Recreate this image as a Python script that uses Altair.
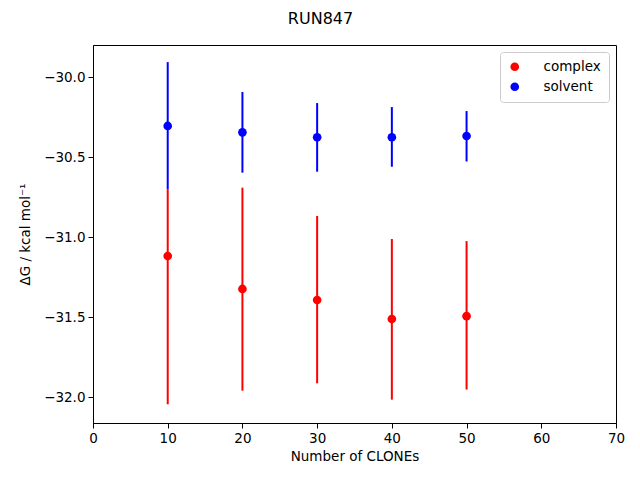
import altair as alt
import pandas as pd

clones = [10, 20, 30, 40, 50]
complex_mean = [-31.117, -31.323, -31.392, -31.511, -31.493]
complex_lo = [-32.044, -31.959, -31.913, -32.015, -31.952]
complex_hi = [-30.700, -30.690, -30.867, -31.011, -31.024]
solvent_mean = [-30.304, -30.344, -30.375, -30.375, -30.367]
solvent_lo = [-30.700, -30.596, -30.590, -30.559, -30.526]
solvent_hi = [-29.905, -30.092, -30.161, -30.186, -30.211]
series = ["complex", "solvent"]
colors = ["#ff0000", "#0000ff"]

rows = []
for i, c in enumerate(clones):
    rows.append(dict(n=c, leg="complex", o=0, mean=complex_mean[i], lo=complex_lo[i], hi=complex_hi[i]))
for i, c in enumerate(clones):
    rows.append(dict(n=c, leg="solvent", o=1, mean=solvent_mean[i], lo=solvent_lo[i], hi=solvent_hi[i]))
df = pd.DataFrame(rows)

FONT = "DejaVu Sans"
xscale = alt.Scale(domain=[0, 70], nice=False, zero=False)
yscale = alt.Scale(domain=[-32.161, -29.798], nice=False, zero=False)
cscale = alt.Scale(domain=series, range=colors)

legend = alt.Legend(
    title=None, orient="none", legendX=407, legendY=7,
    strokeColor="#cccccc", cornerRadius=3, padding=8, fillColor="white",
    labelFont=FONT, labelFontSize=13.5, labelColor="black",
    symbolSize=75, symbolType="circle", rowPadding=5, labelOffset=22,
    symbolStrokeWidth=0, symbolOpacity=1)

xenc = alt.X("n:Q", scale=xscale, axis=alt.Axis(
    title="Number of CLONEs", values=[0, 10, 20, 30, 40, 50, 60, 70], format="d",
    grid=False, tickColor="black", domainColor="black", tickSize=5, labelPadding=3,
    labelFontSize=13.5, titleFontSize=13.5, labelColor="black", titleColor="black",
    labelFont=FONT, titleFont=FONT, titleFontWeight="normal", titlePadding=5,
    labelFlush=False))

rules = alt.Chart(df).mark_rule(strokeWidth=2).encode(
    x=xenc,
    y=alt.Y("lo:Q", scale=yscale, axis=alt.Axis(
        title="ΔG / kcal mol⁻¹", values=[-32.0, -31.5, -31.0, -30.5, -30.0], format=".1f",
        grid=False, tickColor="black", domainColor="black", tickSize=5, labelPadding=3,
        labelFontSize=13.5, titleFontSize=13.5, labelColor="black", titleColor="black",
        labelFont=FONT, titleFont=FONT, titleFontWeight="normal", titlePadding=11,
        labelFlush=False)),
    y2="hi:Q",
    color=alt.Color("leg:N", scale=cscale, legend=legend),
    order="o:Q",
)

points = alt.Chart(df).mark_circle(size=75, opacity=1).encode(
    x=alt.X("n:Q", scale=xscale),
    y=alt.Y("mean:Q", scale=yscale),
    color=alt.Color("leg:N", scale=cscale, legend=legend),
)

chart = alt.layer(rules, points).resolve_legend(color="shared").properties(
    width=523, height=378,
    title=alt.TitleParams("RUN847", font=FONT, fontSize=16, fontWeight="normal",
                          color="black", anchor="middle", dx=-34, offset=18),
    autosize=alt.AutoSizeParams(type="none"),
    padding={"left": 85, "top": 37, "right": 16, "bottom": 50},
).configure_view(stroke="black", strokeWidth=1)

chart.save("out.html", embed_options={"renderer": "svg", "actions": False})
